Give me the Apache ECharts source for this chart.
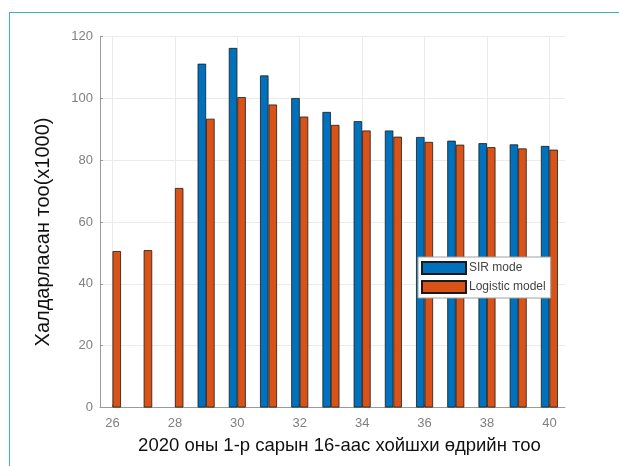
<!DOCTYPE html>
<html>
<head>
<meta charset="utf-8">
<script src="https://cdn.jsdelivr.net/npm/echarts@6/dist/echarts.min.js"></script>
<style>
html,body{margin:0;padding:0;background:#fff;}
#frame{position:absolute;left:9px;top:12px;width:620px;height:460px;border-top:1.5px solid #3fb2bc;border-left:1.5px solid #3fb2bc;box-sizing:border-box;}
#chart{position:absolute;left:0;top:0;width:619px;height:466px;}
</style>
</head>
<body>
<div id="frame"></div>
<div id="chart"></div>
<script>
const days = [26, 27, 28, 29, 30, 31, 32, 33, 34, 35, 36, 37, 38, 39, 40];
const sirValues = [null, null, null, 111.2, 116.3, 107.4, 100.1, 95.6, 92.6, 89.6, 87.5, 86.3, 85.5, 85.1, 84.6];
const logisticValues = [50.6, 50.9, 71.0, 93.4, 100.4, 98.0, 94.1, 91.4, 89.6, 87.6, 85.9, 85.0, 84.2, 83.8, 83.4];
const xTicks = [26, 28, 30, 32, 34, 36, 38, 40];
const seriesNames = ['SIR mode', 'Logistic model'];
const xTitle = '2020 оны 1-р сарын 16-аас хойшхи өдрийн тоо';
const yTitle = 'Халдарласан тоо(x1000)';

const chart = echarts.init(document.getElementById('chart'), null, {renderer: 'canvas'});
const font = 'Arial, "Liberation Sans", sans-serif';
const toPairs = vals => days.map((d, i) => [d, vals[i]]);

chart.setOption({
  animation: false,
  grid: {left: 100, right: 54, top: 36.5, bottom: 58.5, containLabel: false},
  legend: {
    orient: 'vertical',
    left: 418, top: 257,
    data: seriesNames,
    icon: 'rect',
    itemWidth: 44, itemHeight: 12, itemGap: 5,
    padding: [4, 5, 4, 3],
    borderColor: '#a0a0a0', borderWidth: 1,
    backgroundColor: '#fff',
    textStyle: {fontFamily: font, fontSize: 12, color: '#444', padding: [0, 0, 0, -2]}
  },
  xAxis: {
    type: 'value',
    min: 25.6, max: 40.5,
    name: xTitle,
    nameLocation: 'middle',
    nameGap: 29,
    nameTextStyle: {fontFamily: font, fontSize: 18.5, color: '#111', padding: [0, 0, 0, 14]},
    axisLine: {show: true, lineStyle: {color: '#9a9a9a', width: 1}},
    axisTick: {show: true, inside: true, length: 3, customValues: xTicks, lineStyle: {color: '#9a9a9a'}},
    axisLabel: {customValues: xTicks, fontFamily: font, fontSize: 13, color: '#808080', margin: 9},
    splitLine: {show: true, lineStyle: {color: '#ebebeb', width: 1}}
  },
  yAxis: {
    type: 'value',
    min: 0, max: 120, interval: 20,
    name: yTitle,
    nameLocation: 'middle',
    nameGap: 47,
    nameTextStyle: {fontFamily: font, fontSize: 20, color: '#111', padding: [0, 20, 0, 0]},
    axisLine: {show: true, lineStyle: {color: '#9a9a9a', width: 1}},
    axisTick: {show: true, inside: true, length: 3, lineStyle: {color: '#9a9a9a'}},
    axisLabel: {fontFamily: font, fontSize: 13, color: '#808080', margin: 7},
    splitLine: {show: true, lineStyle: {color: '#ebebeb', width: 1}}
  },
  series: [
    {
      name: seriesNames[0], type: 'bar', data: toPairs(sirValues),
      barWidth: 8.5, barGap: '0%',
      itemStyle: {color: '#0072BD', borderColor: '#1a1a1a', borderWidth: 0.8}
    },
    {
      name: seriesNames[1], type: 'bar', data: toPairs(logisticValues),
      barWidth: 8.5, barGap: '0%',
      itemStyle: {color: '#D95319', borderColor: '#1a1a1a', borderWidth: 0.8}
    }
  ]
});
</script>
</body>
</html>
